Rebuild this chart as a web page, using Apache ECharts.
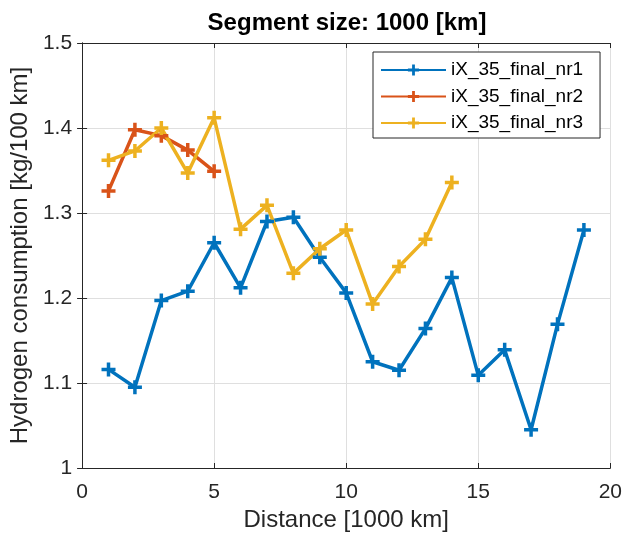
<!DOCTYPE html>
<html>
<head>
<meta charset="utf-8">
<script src="https://cdn.jsdelivr.net/npm/echarts@6/dist/echarts.min.js"></script>
<style>
  html, body { margin: 0; padding: 0; background: #fff; }
  #chart { width: 625px; height: 539px; }
</style>
</head>
<body>
<div id="chart"></div>
<script>
// Distance in 1000 km, consumption in kg/100 km
const distanceNr1 = [1, 2, 3, 4, 5, 6, 7, 8, 9, 10, 11, 12, 13, 14, 15, 16, 17, 18, 19];
const consumptionNr1 = [1.116, 1.095, 1.197, 1.208, 1.265, 1.212, 1.290, 1.295, 1.248, 1.206,
                        1.125, 1.115, 1.164, 1.224, 1.109, 1.139, 1.045, 1.169, 1.280];
const distanceNr2 = [1, 2, 3, 4, 5];
const consumptionNr2 = [1.326, 1.398, 1.391, 1.374, 1.349];
const distanceNr3 = [1, 2, 3, 4, 5, 6, 7, 8, 9, 10, 11, 12, 13, 14];
const consumptionNr3 = [1.362, 1.373, 1.400, 1.347, 1.412, 1.281, 1.309, 1.229, 1.258, 1.280,
                        1.193, 1.237, 1.269, 1.336];
const seriesNames = ['iX_35_final_nr1', 'iX_35_final_nr2', 'iX_35_final_nr3'];
const xTicks = [0, 5, 10, 15, 20];
const yTicks = [1, 1.1, 1.2, 1.3, 1.4, 1.5];

const colors = ['#0072BD', '#D95319', '#EDB120'];
const plusPath = 'path://M5.25,0h3.5v5.25h5.25v3.5h-5.25v5.25h-3.5v-5.25h-5.25v-3.5h5.25z';
const font = 'Liberation Sans, Arial, Helvetica, sans-serif';
const ink = '#262626';

const gridLeft = 82, gridRight = 9, gridTop = 43, gridBottom = 71;

function pairs(xs, ys) { return xs.map((x, i) => [x, ys[i]]); }

function lineSeries(name, data, color) {
  return {
    name: name,
    type: 'line',
    data: data,
    xAxisIndex: 0,
    yAxisIndex: 0,
    symbol: plusPath,
    symbolSize: 14,
    showAllSymbol: true,
    lineStyle: { color: color, width: 3.5 },
    itemStyle: { color: color },
    emphasis: { disabled: true },
    animation: false
  };
}

const chart = echarts.init(document.getElementById('chart'), null, { renderer: 'canvas' });

const axisCommon = {
  axisLine: { show: true, lineStyle: { color: ink, width: 1 } },
  axisTick: { show: true, inside: true, length: 5, lineStyle: { color: ink, width: 1 } }
};

chart.setOption({
  backgroundColor: '#ffffff',
  animation: false,
  title: {
    text: 'Segment size: 1000 [km]',
    left: 342,
    textAlign: 'center',
    top: 6,
    textStyle: { fontFamily: font, fontSize: 24, fontWeight: 'bold', color: '#000' }
  },
  legend: {
    orient: 'vertical',
    left: 373,
    top: 52,
    padding: [8, 17, 5, 7],
    itemGap: 6.5,
    itemWidth: 65,
    itemHeight: 14,
    backgroundColor: '#fff',
    borderColor: ink,
    borderWidth: 1,
    borderRadius: 0,
    textStyle: { fontFamily: font, fontSize: 19, lineHeight: 20, color: '#000' },
    data: seriesNames
  },
  grid: { left: gridLeft, right: gridRight, top: gridTop, bottom: gridBottom, containLabel: false },
  xAxis: [
    Object.assign({
      type: 'value', min: xTicks[0], max: xTicks[xTicks.length - 1], interval: 5,
      position: 'bottom',
      name: 'Distance [1000 km]', nameLocation: 'middle', nameGap: 39,
      nameTextStyle: { fontFamily: font, fontSize: 24, color: ink },
      axisLabel: { fontFamily: font, fontSize: 21, color: ink, margin: 14 },
      splitLine: { show: true, lineStyle: { color: '#dfdfdf', width: 1 } }
    }, axisCommon),
    Object.assign({
      type: 'value', min: xTicks[0], max: xTicks[xTicks.length - 1], interval: 5,
      position: 'top',
      axisLabel: { show: false },
      splitLine: { show: false }
    }, axisCommon)
  ],
  yAxis: [
    Object.assign({
      type: 'value', min: yTicks[0], max: yTicks[yTicks.length - 1], interval: 0.1,
      position: 'left',
      name: 'Hydrogen consumption [kg/100 km]', nameLocation: 'middle', nameGap: 46,
      nameTextStyle: { fontFamily: font, fontSize: 24, color: ink },
      axisLabel: {
        fontFamily: font, fontSize: 21, color: ink, margin: 10,
        formatter: v => String(Math.round(v * 10) / 10)
      },
      splitLine: { show: true, lineStyle: { color: '#dfdfdf', width: 1 } }
    }, axisCommon),
    Object.assign({
      type: 'value', min: yTicks[0], max: yTicks[yTicks.length - 1], interval: 0.1,
      position: 'right',
      axisLabel: { show: false },
      splitLine: { show: false }
    }, axisCommon)
  ],
  series: [
    lineSeries(seriesNames[0], pairs(distanceNr1, consumptionNr1), colors[0]),
    lineSeries(seriesNames[1], pairs(distanceNr2, consumptionNr2), colors[1]),
    lineSeries(seriesNames[2], pairs(distanceNr3, consumptionNr3), colors[2])
  ]
});
</script>
</body>
</html>
